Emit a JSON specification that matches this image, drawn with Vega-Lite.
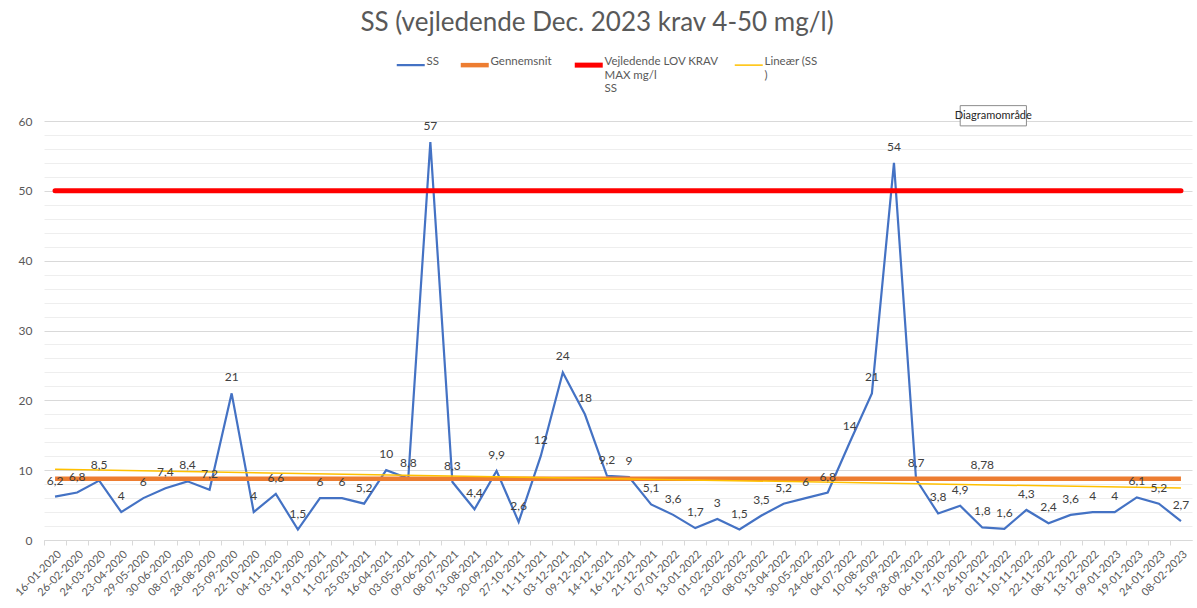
{
  "$schema": "https://vega.github.io/schema/vega-lite/v6.json",
  "width": 1148,
  "height": 419,
  "autosize": "none",
  "padding": {"left": 44, "top": 121, "right": 5, "bottom": 68},
  "background": "white",
  "title": {
    "text": "SS (vejledende Dec. 2023 krav 4-50 mg/l)",
    "font": "Lato",
    "fontSize": 26,
    "fontWeight": "normal",
    "color": "#595959",
    "anchor": "middle",
    "dx": -21,
    "offset": 23
  },
  "datasets": {
    "ss": [
      {"d": "16-01-2020", "ss": 6.2},
      {"d": "26-02-2020", "ss": 6.8},
      {"d": "24-03-2020", "ss": 8.5},
      {"d": "23-04-2020", "ss": 4},
      {"d": "29-05-2020", "ss": 6},
      {"d": "30-06-2020", "ss": 7.4},
      {"d": "08-07-2020", "ss": 8.4},
      {"d": "28-08-2020", "ss": 7.2},
      {"d": "25-09-2020", "ss": 21},
      {"d": "22-10-2020", "ss": 4},
      {"d": "04-11-2020", "ss": 6.6},
      {"d": "03-12-2020", "ss": 1.5},
      {"d": "19-01-2021", "ss": 6},
      {"d": "11-02-2021", "ss": 6},
      {"d": "25-03-2021", "ss": 5.2},
      {"d": "16-04-2021", "ss": 10},
      {"d": "03-05-2021", "ss": 8.8},
      {"d": "09-06-2021", "ss": 57},
      {"d": "08-07-2021", "ss": 8.3},
      {"d": "13-08-2021", "ss": 4.4},
      {"d": "20-09-2021", "ss": 9.9},
      {"d": "27-10-2021", "ss": 2.6},
      {"d": "11-11-2021", "ss": 12},
      {"d": "03-12-2021", "ss": 24},
      {"d": "09-12-2021", "ss": 18},
      {"d": "14-12-2021", "ss": 9.2},
      {"d": "16-12-2021", "ss": 9},
      {"d": "21-12-2021", "ss": 5.1},
      {"d": "07-01-2022", "ss": 3.6},
      {"d": "13-01-2022", "ss": 1.7},
      {"d": "01-02-2022", "ss": 3},
      {"d": "23-02-2022", "ss": 1.5},
      {"d": "08-03-2022", "ss": 3.5},
      {"d": "13-04-2022", "ss": 5.2},
      {"d": "30-05-2022", "ss": 6},
      {"d": "24-06-2022", "ss": 6.8},
      {"d": "04-07-2022", "ss": 14},
      {"d": "10-08-2022", "ss": 21},
      {"d": "15-09-2022", "ss": 54},
      {"d": "28-09-2022", "ss": 8.7},
      {"d": "06-10-2022", "ss": 3.8},
      {"d": "17-10-2022", "ss": 4.9},
      {"d": "26-10-2022", "ss": 1.8},
      {"d": "02-11-2022", "ss": 1.6},
      {"d": "10-11-2022", "ss": 4.3},
      {"d": "22-11-2022", "ss": 2.4},
      {"d": "08-12-2022", "ss": 3.6},
      {"d": "13-12-2022", "ss": 4},
      {"d": "09-01-2023", "ss": 4},
      {"d": "19-01-2023", "ss": 6.1},
      {"d": "24-01-2023", "ss": 5.2},
      {"d": "08-02-2023", "ss": 2.7}
    ],
    "trend": [
      {"d": "16-01-2020", "t": 10.12},
      {"d": "08-02-2023", "t": 7.43}
    ],
    "one": [{"k": 1}]
  },
  "data": {"name": "ss"},
  "encoding": {
    "x": {
      "field": "d",
      "type": "nominal",
      "title": null,
      "scale": {
        "type": "point",
        "padding": 0.5,
        "domain": ["16-01-2020","26-02-2020","24-03-2020","23-04-2020","29-05-2020","30-06-2020","08-07-2020","28-08-2020","25-09-2020","22-10-2020","04-11-2020","03-12-2020","19-01-2021","11-02-2021","25-03-2021","16-04-2021","03-05-2021","09-06-2021","08-07-2021","13-08-2021","20-09-2021","27-10-2021","11-11-2021","03-12-2021","09-12-2021","14-12-2021","16-12-2021","21-12-2021","07-01-2022","13-01-2022","01-02-2022","23-02-2022","08-03-2022","13-04-2022","30-05-2022","24-06-2022","04-07-2022","10-08-2022","15-09-2022","28-09-2022","06-10-2022","17-10-2022","26-10-2022","02-11-2022","10-11-2022","22-11-2022","08-12-2022","13-12-2022","09-01-2023","19-01-2023","24-01-2023","08-02-2023"]
      },
      "axis": {
        "labelAngle": -45,
        "labelFont": "Lato",
        "labelFontSize": 11,
        "labelColor": "#595959",
        "tickColor": "#d9d9d9",
        "domainColor": "#d9d9d9",
        "tickSize": 5,
        "tickOffset": -11,
        "labelOffset": 11,
        "labelPadding": 3,
        "grid": false,
        "title": null
      }
    }
  },
  "layer": [
    {
      "mark": {"type": "line", "strokeWidth": 2.2},
      "encoding": {
        "y": {
          "field": "ss",
          "type": "quantitative",
          "title": null,
          "scale": {"domain": [0, 60], "nice": false, "zero": true},
          "axis": {
            "values": [0,2,4,6,8,10,12,14,16,18,20,22,24,26,28,30,32,34,36,38,40,42,44,46,48,50,52,54,56,58,60],
            "tickCount": 100,
            "labelExpr": "datum.value % 10 === 0 ? format(datum.value, 'd') : ''",
            "labelOverlap": false,
            "gridColor": {"condition": {"test": "datum.value % 10 === 0", "value": "#d9d9d9"}, "value": "#eeeeee"},
            "domain": false,
            "ticks": false,
            "labelPadding": 12,
            "labelFont": "Lato",
            "labelFontSize": 12,
            "labelColor": "#595959",
            "title": null
          }
        },
        "color": {
          "datum": "SS",
          "scale": {"domain": ["SS", "Gennemsnit", "Krav", "Trend"], "range": ["#4472C4", "#ED7D31", "#FF0000", "#FFC000"]},
          "legend": {
            "labelExpr": "datum.label == 'Krav' ? ['Vejledende LOV KRAV', 'MAX mg/l', 'SS'] : datum.label == 'Trend' ? ['Lineær (SS', ')', ''] : [datum.label, '', '']",
            "symbolStrokeWidth": {"expr": "datum.value == 'SS' ? 2.2 : datum.value == 'Gennemsnit' ? 4.5 : datum.value == 'Krav' ? 5 : 1.5"}
          }
        }
      }
    },
    {
      "mark": {"type": "line", "strokeWidth": 4.5},
      "encoding": {
        "y": {"datum": 8.78, "type": "quantitative", "title": null},
        "color": {"datum": "Gennemsnit"}
      }
    },
    {
      "mark": {"type": "line", "strokeCap": "round", "strokeWidth": 5},
      "encoding": {
        "y": {"datum": 50, "type": "quantitative", "title": null},
        "color": {"datum": "Krav"}
      }
    },
    {
      "data": {"name": "trend"},
      "mark": {"type": "line", "strokeWidth": 1.5},
      "encoding": {
        "y": {"field": "t", "type": "quantitative", "title": null},
        "color": {"datum": "Trend"}
      }
    },
    {
      "mark": {"type": "text", "font": "Lato", "fontSize": 12, "color": "#404040", "baseline": "middle", "dy": -16},
      "encoding": {
        "y": {"field": "ss", "type": "quantitative", "title": null},
        "text": {"field": "ss", "type": "quantitative", "format": "~g"}
      }
    },
    {
      "data": {"name": "one"},
      "mark": {"type": "text", "font": "Lato", "fontSize": 12, "color": "#404040", "baseline": "middle", "dy": -14, "text": "8,78"},
      "encoding": {
        "x": {"datum": "26-10-2022"},
        "y": {"datum": 8.78, "type": "quantitative", "title": null}
      }
    },
    {
      "data": {"name": "one"},
      "mark": {"type": "rect", "fill": "white", "stroke": "#8c8c8c", "strokeWidth": 1},
      "encoding": {
        "x": {"datum": "17-10-2022"},
        "x2": {"datum": "10-11-2022"},
        "y": {"datum": 59.3, "type": "quantitative", "title": null},
        "y2": {"datum": 62.2}
      }
    },
    {
      "data": {"name": "one"},
      "mark": {"type": "text", "font": "Lato", "fontSize": 11, "color": "#262626", "baseline": "middle", "dx": 11, "text": "Diagramområde"},
      "encoding": {
        "x": {"datum": "26-10-2022"},
        "y": {"datum": 60.7, "type": "quantitative", "title": null}
      }
    }
  ],
  "config": {
    "view": {"stroke": null},
    "locale": {"number": {"decimal": ",", "thousands": ".", "grouping": [3], "currency": ["", " kr."]}},
    "axisY": {"labelOverlap": false},
    "legend": {
      "orient": "none",
      "legendX": 361,
      "legendY": -62,
      "direction": "horizontal",
      "columns": 4,
      "title": null,
      "symbolType": "stroke",
      "symbolSize": 784,
      "labelFont": "Lato",
      "labelFontSize": 11.5,
      "labelColor": "#595959",
      "labelOffset": 10,
      "columnPadding": 12,
      "labelBaseline": "alphabetic",
      "labelLimit": 300
    }
  }
}
